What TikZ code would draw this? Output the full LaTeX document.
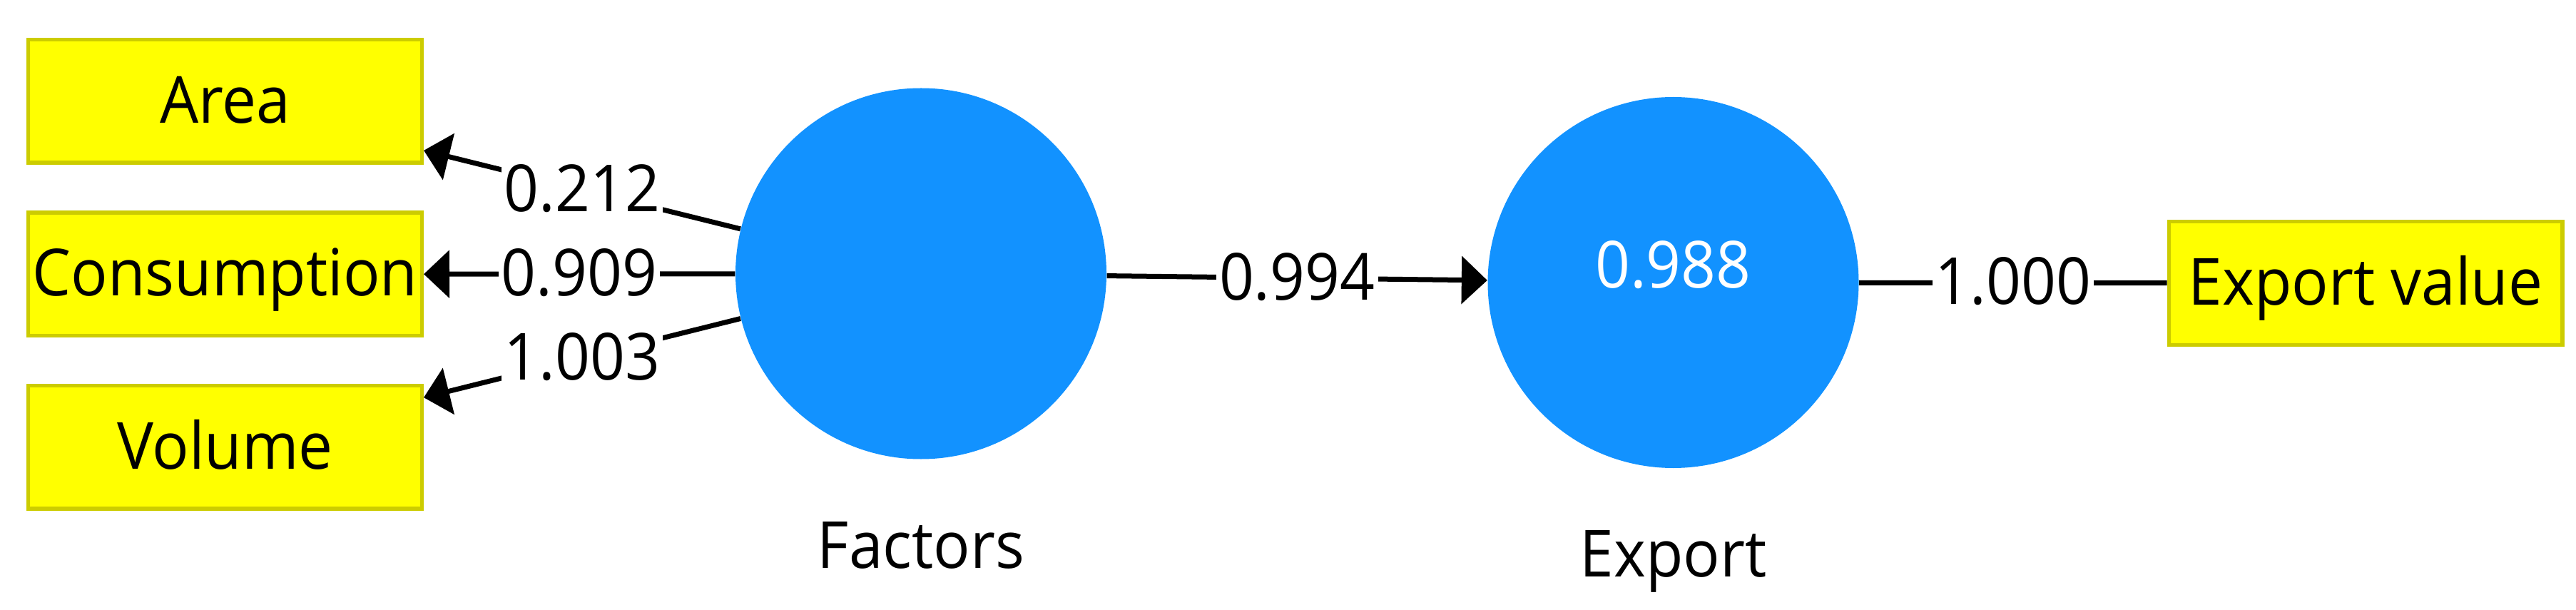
\documentclass[tikz,border=0pt]{standalone}
\usepackage{fontspec}
\setmainfont{Open Sans}[FakeStretch=0.94]
\usetikzlibrary{arrows.meta,positioning}
\definecolor{lvblue}{RGB}{18,146,255}
\definecolor{mvfill}{RGB}{255,255,0}
\definecolor{mvline}{RGB}{204,204,0}
\begin{document}
\begin{tikzpicture}[font=\fontsize{25.9}{31}\selectfont,
    mv/.style={draw=mvline,fill=mvfill,line width=0.055cm,inner sep=0pt,
      minimum width=5.515cm,minimum height=1.725cm,text height=6.3mm,text depth=0.2mm},
    lv/.style={circle,fill=lvblue,minimum size=5.2cm,inner sep=0pt},
    coef/.style={fill=white,inner xsep=0.4mm,inner ysep=0.5mm,text height=6.3mm,text depth=0.2mm},
    link/.style={line width=0.07cm},
    load/.style={link,-{Triangle[length=3.6mm,width=6.6mm]}}]
    \useasboundingbox (0,0) rectangle (36.11,8.54);
    \node[lv] (F) at (12.91,4.705) {};
    \node[below=15.2mm of F.south,anchor=base] (Flab) {Factors};
    \foreach \n/\t/\y/\v in {Area/Area/7.12/0.212,Cons/Consumption/4.695/0.909,Vol/Volume/2.275/1.003}
    {\node[mv] (\n) at (3.155,\y) {\t};
    \draw[load] (F) -- node[coef] {\v} (\n);}
    \node[lv] (E) at (23.455,4.58) {};
    \node[white] (R2) at ([yshift=2.45mm]E.center) {0.988};
    \node[below=15.2mm of E.south,anchor=base] (Elab) {Export};
    \node[mv] (EV) at (33.16,4.57) {Export value};
    \draw[load] (F) -- node[coef] {0.994} (E);
    \draw[link] (E) -- node[coef] {1.000} (EV);
\end{tikzpicture}
\end{document}
